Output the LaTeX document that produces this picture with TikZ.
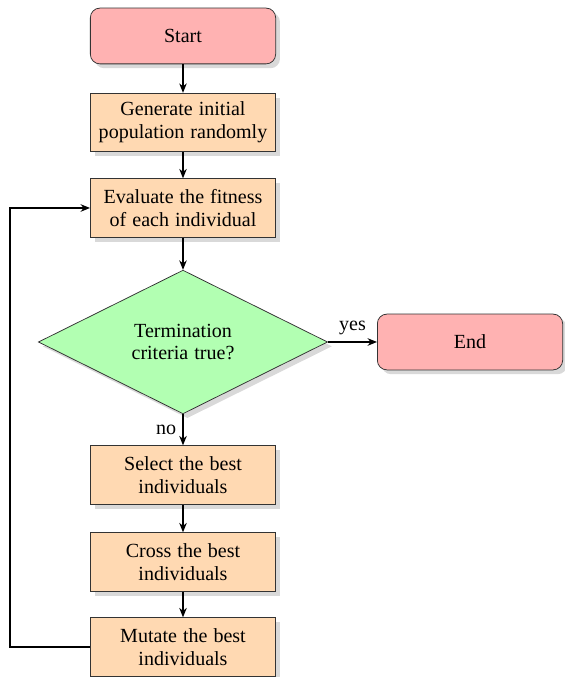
\documentclass[tikz,border=0pt]{standalone}
\usepackage{fontspec}
\setmainfont{Liberation Serif}[WordSpace=1.2]
\usepackage{tikz}
\usetikzlibrary{positioning,arrows.meta,shapes.geometric,shadows}

\begin{document}
\begin{tikzpicture}[
  font=\fontsize{10.6}{12}\selectfont,
  x=0.529pt, y=0.529pt,
  startstop/.style={rectangle, rounded corners=5pt, draw=black!80, fill=red!30,
    minimum width=98pt, minimum height=29.5pt, align=center,
    drop shadow={opacity=0.3}},
  process/.style={rectangle, draw=black!80, fill=orange!30,
    minimum width=98pt, minimum height=31pt, align=center, inner sep=2pt,
    drop shadow={opacity=0.3}},
  decision/.style={diamond, aspect=2, draw=black!80, fill=green!30,
    minimum width=153pt, minimum height=76pt, align=center, inner sep=1pt,
    drop shadow={opacity=0.3}},
  flow/.style={semithick, -{Stealth[length=5pt,width=4pt]}}
]
% ---- Canvas (matches the reference margins) ----
\useasboundingbox (0,0) rectangle (564,677);

% ---- Main column (x = 183) ----
\node[startstop] (start) at (183,641) {Start};
\node[process] (init) at (183,554.5) {Generate initial\\population randomly};
\node[process] (eval) at (183,469) {Evaluate the fitness\\of each individual};
\node[decision] (term) at (183,335) {Termination\\criteria true?};
\node[startstop] (stop) at (470,335) {End};
\node[process] (select) at (183,202) {Select the best\\individuals};
\node[process] (cross) at (183,115) {Cross the best\\individuals};
\node[process] (mutate) at (183,30) {Mutate the best\\individuals};

% ---- Connectors ----
\draw[flow] (start) -- (init);
\draw[flow] (init) -- (eval);
\draw[flow] (eval) -- (term);
\draw[flow] (term) -- node[above] {yes} (stop);
\draw[flow] (term) -- node[left] {no} (select);
\draw[flow] (select) -- (cross);
\draw[flow] (cross) -- (mutate);

% ---- Loop back to the fitness evaluation ----
\coordinate (back) at (10,30);
\draw[flow] (mutate.west) -- (back) |- (eval.west);

\end{tikzpicture}
\end{document}
